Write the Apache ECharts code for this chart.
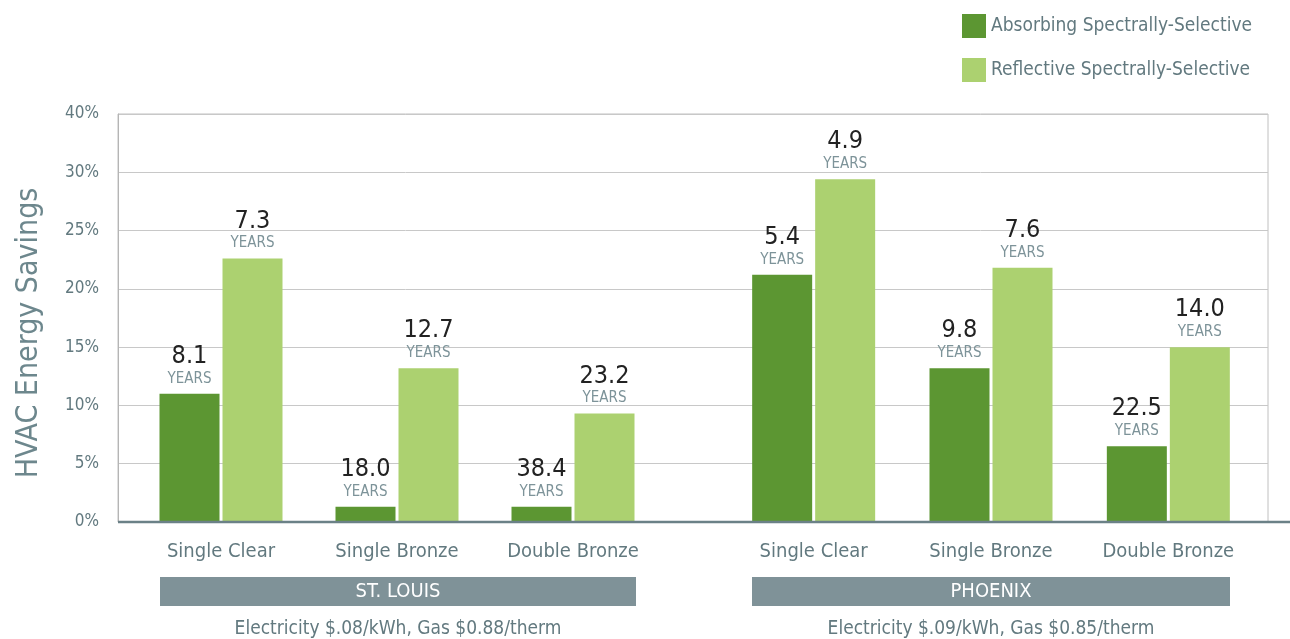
<!DOCTYPE html>
<html><head><meta charset="utf-8">
<script src="https://cdn.jsdelivr.net/npm/echarts@6/dist/echarts.min.js"></script>
<style>html,body{margin:0;padding:0;background:#fff}#c{width:1290px;height:639px}</style>
</head><body><div id="c"></div>
<script>
const categories = ['Single Clear', 'Single Bronze', 'Double Bronze'];
const cities = ['ST. LOUIS', 'PHOENIX'];
const rates = ['Electricity $.08/kWh, Gas $0.88/therm', 'Electricity $.09/kWh, Gas $0.85/therm'];
const seriesNames = ['Absorbing Spectrally-Selective', 'Reflective Spectrally-Selective'];
// HVAC energy savings (%)
const stlAbsorbing = [11.0, 1.3, 1.3];
const stlReflective = [22.6, 13.2, 9.3];
const phxAbsorbing = [21.2, 13.2, 6.5];
const phxReflective = [29.4, 21.8, 15.0];
// payback years
const stlAbsYears = ['8.1', '18.0', '38.4'];
const stlRefYears = ['7.3', '12.7', '23.2'];
const phxAbsYears = ['5.4', '9.8', '22.5'];
const phxRefYears = ['4.9', '7.6', '14.0'];
const yTickLabels = ['0%', '5%', '10%', '15%', '20%', '25%', '30%', '40%'];

const FONT = '"Liberation Sans Narrow","DejaVu Sans Condensed","Roboto",sans-serif';
const DARK = '#5c9632', LIGHT = '#acd170', TEXT = '#62797f';
const TOP = 114, BOTTOM = 117;
const g1 = {left: 133, width: 528}, g2 = {left: 725, width: 532};

const chart = echarts.init(document.getElementById('c'));

function yAx(idx, show) {
  return {
    type: 'value', gridIndex: idx, min: 0, max: 35, interval: 5,
    show: show,
    axisLine: {show: show, lineStyle: {color: '#b5b5b5', width: 1}},
    axisTick: {show: false},
    splitLine: {show: show, lineStyle: {color: '#c8c8c8', width: 1}},
    axisLabel: {show: show, margin: 19, color: TEXT, fontSize: 17, fontFamily: FONT,
      formatter: (v) => yTickLabels[Math.round(v / 5)]},
    name: show ? 'HVAC Energy Savings' : '',
    nameLocation: 'middle', nameGap: 74,
    nameTextStyle: {color: '#6d878d', fontSize: 30, fontFamily: FONT, padding: [0, 0, 0, -30]}
  };
}
function xAx(idx) {
  return {
    type: 'category', gridIndex: idx, data: categories,
    axisLine: {show: false}, axisTick: {show: false},
    axisLabel: {margin: 20, color: TEXT, fontSize: 20, fontFamily: FONT}
  };
}
function lbl(years) {
  return {
    show: true, position: 'top', distance: 7,
    formatter: (p) => '{a|' + years[p.dataIndex] + '}\n{b|YEARS}',
    rich: {
      a: {fontSize: 25, color: '#222', fontFamily: FONT, lineHeight: 29, align: 'center'},
      b: {fontSize: 15, color: '#7d9399', fontFamily: FONT, lineHeight: 16, align: 'center'}
    }
  };
}
function bar(name, data, years, gi, color) {
  return {
    name: name, type: 'bar', xAxisIndex: gi, yAxisIndex: gi, data: data,
    barWidth: 60, barGap: '5%', itemStyle: {color: color}, label: lbl(years),
    emphasis: {disabled: true}, animation: false
  };
}

const banners = [];
[[160, 636], [752, 1230]].forEach((r, i) => {
  banners.push({type: 'rect', shape: {x: r[0], y: 577, width: r[1] - r[0], height: 29},
    style: {fill: '#7f9298'}});
  banners.push({type: 'text', x: (r[0] + r[1]) / 2, y: 591.5,
    style: {text: cities[i], fill: '#fff', fontSize: 20, fontFamily: FONT, align: 'center', verticalAlign: 'middle'}});
  banners.push({type: 'text', x: (r[0] + r[1]) / 2, y: 629,
    style: {text: rates[i], fill: TEXT, fontSize: 19, fontFamily: FONT, align: 'center', verticalAlign: 'middle'}});
});
banners.push({type: 'line', shape: {x1: 118, y1: 522, x2: 1290, y2: 522},
  style: {stroke: '#6b8187', lineWidth: 2.5}, z: 100});

chart.setOption({
  animation: false,
  textStyle: {fontFamily: FONT},
  legend: {
    data: seriesNames, orient: 'vertical', left: 962, top: 14, padding: 0, itemWidth: 24, itemHeight: 24,
    itemGap: 20, icon: 'rect', selectedMode: false,
    textStyle: {color: TEXT, fontSize: 19, fontFamily: FONT}
  },
  grid: [
    {left: 118, right: 22, top: TOP, bottom: BOTTOM, show: true, borderColor: '#c0c0c0', borderWidth: 1},
    {left: g1.left, width: g1.width, top: TOP, bottom: BOTTOM},
    {left: g2.left, width: g2.width, top: TOP, bottom: BOTTOM}
  ],
  xAxis: [
    {type: 'value', gridIndex: 0, show: false, min: 0, max: 1},
    xAx(1), xAx(2)
  ],
  yAxis: [yAx(0, true), yAx(1, false), yAx(2, false)],
  series: [
    bar(seriesNames[0], stlAbsorbing, stlAbsYears, 1, DARK),
    bar(seriesNames[1], stlReflective, stlRefYears, 1, LIGHT),
    bar(seriesNames[0], phxAbsorbing, phxAbsYears, 2, DARK),
    bar(seriesNames[1], phxReflective, phxRefYears, 2, LIGHT)
  ],
  graphic: banners
});
</script></body></html>
